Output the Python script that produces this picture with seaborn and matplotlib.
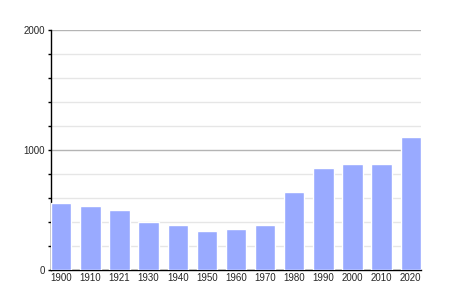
import matplotlib
matplotlib.use("Agg")
import matplotlib.pyplot as plt
import seaborn as sns
import pandas as pd
from matplotlib.ticker import MultipleLocator

years = ["1900", "1910", "1921", "1930", "1940", "1950", "1960", "1970", "1980", "1990", "2000", "2010", "2020"]
population = [561, 533, 500, 400, 375, 325, 342, 375, 650, 850, 883, 883, 1108]

df = pd.DataFrame({"year": years, "pop": population})

sns.set_style("white")
plt.rcParams["font.family"] = ["Liberation Sans", "DejaVu Sans"]

fig = plt.figure(figsize=(4.5, 3), dpi=100)
ax = fig.add_axes([51/450, 0.1, 370/450, 0.8])

sns.barplot(data=df, x="year", y="pop", color="#99aaff", saturation=1, width=0.7, ax=ax, zorder=3)

ax.set_xlim(-0.35, len(years) - 1 + 0.35)
ax.set_ylim(0, 2000)
ax.yaxis.set_major_locator(MultipleLocator(1000))
ax.yaxis.set_minor_locator(MultipleLocator(200))
ax.grid(which="minor", axis="y", color="#e6e6e6", linewidth=1, zorder=0)
ax.grid(which="major", axis="y", color="#b4b4b4", linewidth=1, zorder=0)
ax.set_axisbelow(True)

for s in ["top", "right"]:
    ax.spines[s].set_visible(False)
ax.spines["left"].set_color("black")
ax.spines["bottom"].set_color("black")
ax.spines["left"].set_linewidth(1)
ax.spines["bottom"].set_linewidth(1)

ax.tick_params(axis="y", which="major", length=2.5, width=1, color="black", labelsize=7, pad=2, left=True)
ax.tick_params(axis="y", which="minor", length=2.5, width=1, color="black", left=True)
ax.tick_params(axis="x", length=0, labelsize=7, pad=2.5)
ax.set_xlabel("")
ax.set_ylabel("")

fig.savefig("out.png", dpi=100)
